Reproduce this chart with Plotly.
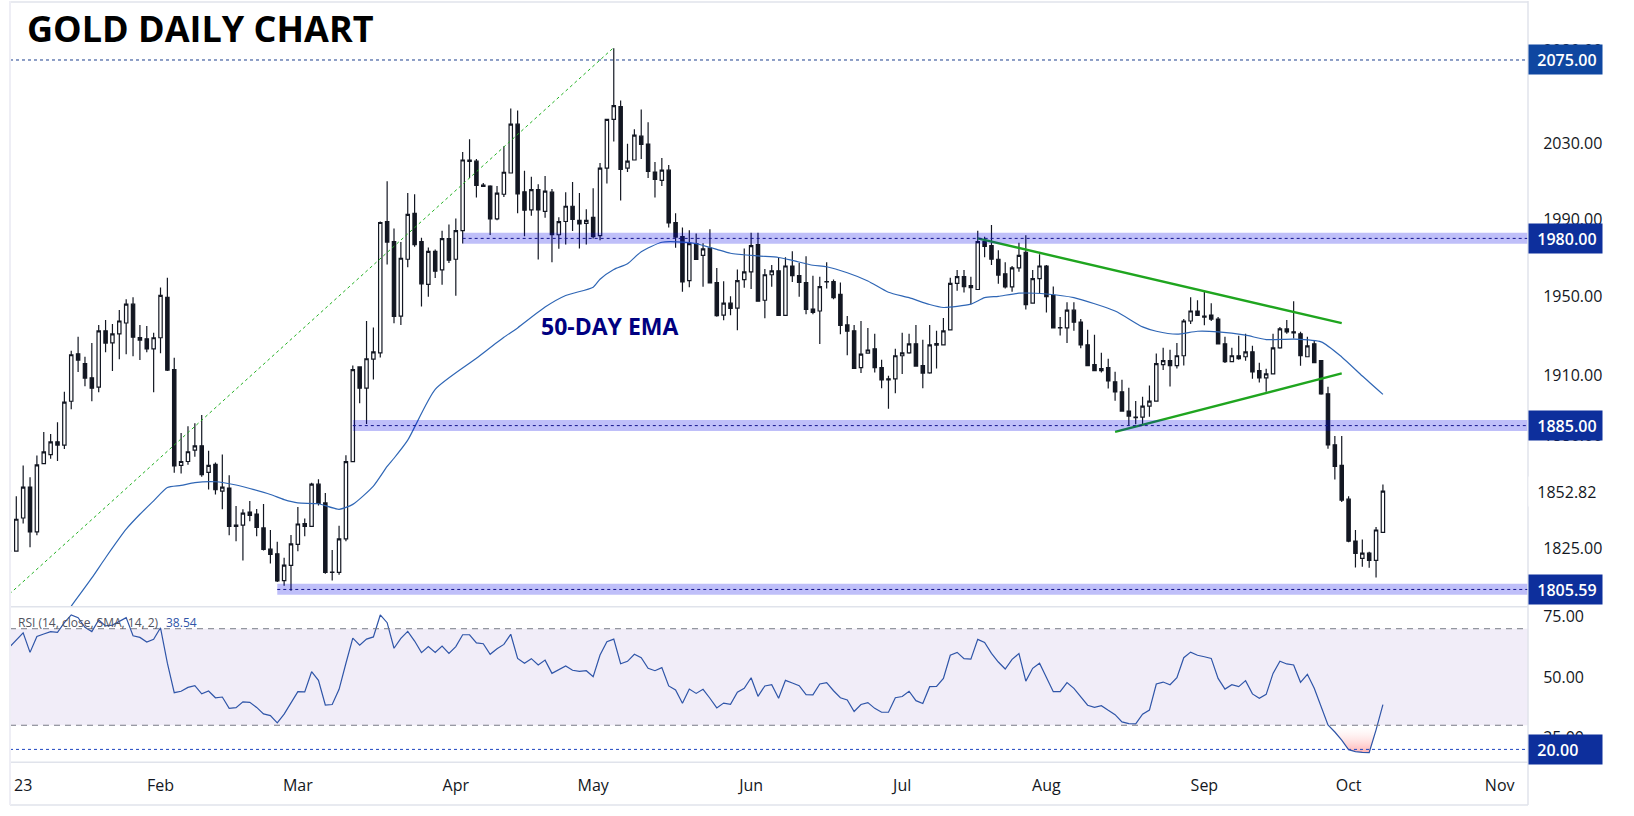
from plotly.subplots import make_subplots
import plotly.graph_objects as go
import pandas as pd
import numpy as np

W, H = 1634, 816
LEFT, RIGHT = 10, 1528
PANE_SPLIT, PANE_BOTTOM = 608, 764

dates = pd.bdate_range("2023-01-02", periods=201)

opens = [
    1823.9, 1823.9, 1839.8, 1854.8, 1833.1, 1866.3, 1870.7, 1877, 1875.4, 1897.1,
    1920.9, 1915.9, 1908.8, 1904.1, 1932.5, 1926.4, 1931, 1936.5, 1946.1, 1929.1,
    1928.5, 1923.4, 1929, 1949.6, 1912.9, 1865.4, 1867.3, 1872.9, 1875, 1862,
    1865.9, 1852.8, 1854.3, 1836.4, 1836.4, 1842.7, 1841.7, 1835, 1824.8, 1822.6,
    1809.8, 1817, 1827.1, 1837.1, 1835.8, 1856.2, 1847.1, 1813.8, 1813.7, 1829.7,
    1867.2, 1914.3, 1903.6, 1918.2, 1921.4, 1988.8, 1978.3, 1940, 1969.2, 1993.1,
    1978.3, 1956.2, 1973.3, 1963.7, 1979.9, 1969.2, 1984, 2021.2, 2020.6, 2007.9,
    2007.4, 1990.2, 2003.1, 2014.3, 2040.3, 2004.4, 1994.9, 2005.5, 1994.1, 2004.2,
    1981.9, 1988.8, 1996.8, 1989.4, 1987.8, 1991, 1981.4, 2016.9, 2042.9, 2049.8,
    2016.9, 2021.2, 2033.9, 2029.7, 2014.8, 2010.4, 2015.8, 1988.3, 1980.9, 1958.2,
    1977.3, 1971.2, 1974.9, 1957.2, 1940.5, 1946.6, 1944.1, 1958.7, 1962.7, 1976.8,
    1948.1, 1961.2, 1963.2, 1940.4, 1965.7, 1960.7, 1957.2, 1943.6, 1942.6, 1957.7,
    1957.7, 1951.1, 1935.5, 1932.5, 1913.9, 1921.2, 1923.4, 1913.9, 1908.3, 1908.3,
    1919.9, 1921.4, 1925.9, 1914.9, 1911.3, 1926.1, 1925.4, 1933, 1956.7, 1960.2,
    1955.6, 1953.6, 1978.3, 1976.3, 1969.2, 1961.7, 1955, 1964.7, 1972.8, 1946.6,
    1959.2, 1965.7, 1950.6, 1934.2, 1934, 1943, 1937, 1925.4, 1915.4, 1912.4,
    1913.9, 1906.8, 1901.8, 1892.2, 1889.2, 1889.2, 1894.7, 1897.2, 1915.4, 1917.4,
    1914.9, 1919.9, 1937.5, 1942.6, 1940, 1940.5, 1938.5, 1925.9, 1916.9, 1919.9,
    1919.4, 1921.9, 1912.4, 1908.8, 1910.8, 1923.9, 1933.5, 1932, 1931, 1919.4,
    1925.9, 1917.4, 1900.8, 1875.5, 1865.4, 1848.9, 1828.7, 1820.4, 1822.9, 1819.4,
    1832.9,
]
highs = [
    1824.4, 1850.4, 1865.4, 1859.6, 1870.2, 1881.8, 1880.8, 1886.7, 1901.8, 1922.4,
    1929.5, 1919.4, 1926.4, 1935.5, 1938, 1936, 1943.1, 1948.6, 1949.6, 1935.5,
    1935, 1931.5, 1954.6, 1959.7, 1918.9, 1881.3, 1884.7, 1886.2, 1890.2, 1872.6,
    1866.8, 1870.7, 1860.6, 1845.6, 1844, 1848, 1844.2, 1846.6, 1834, 1828.4,
    1820.7, 1831.6, 1845.1, 1839.5, 1856.9, 1858.6, 1851.9, 1824.4, 1836, 1870.4,
    1915, 1914.3, 1937.5, 1934.2, 1988.8, 2010, 1985.1, 1978.1, 2003.7, 2003.1,
    1980.3, 1975.3, 1974.3, 1984, 1987.2, 1990.4, 2025.4, 2032.3, 2021.7, 2009,
    2007.9, 2007.4, 2028.5, 2048.7, 2047.7, 2015.5, 2012.3, 2008.4, 2012.7, 2005.8,
    1991, 2004.2, 2009.5, 2003.7, 1995.2, 2006.3, 2019.6, 2042.9, 2081.4, 2053,
    2029.9, 2037.6, 2048.2, 2041.3, 2020.1, 2022.2, 2018.5, 1993.1, 1985.7, 1984.2,
    1982.5, 1977.5, 1984.8, 1964.7, 1957.8, 1950.1, 1963.9, 1974.8, 1983, 1983,
    1964.2, 1966.2, 1970.2, 1970.2, 1973.3, 1967.2, 1970.7, 1960.7, 1960.2, 1967.7,
    1958.7, 1957.2, 1940, 1935.5, 1937.5, 1934, 1931, 1917.9, 1909.8, 1923.4,
    1931.5, 1931, 1935.5, 1928, 1935.5, 1932.5, 1939, 1959.7, 1963.7, 1963.7,
    1960.2, 1984, 1980.9, 1987, 1973.8, 1967.7, 1965.7, 1977.8, 1981.7, 1963.7,
    1971.8, 1966.2, 1955.1, 1939.5, 1947.1, 1947.1, 1938.5, 1933, 1930.5, 1921.4,
    1918.4, 1911.8, 1907.8, 1903.8, 1897.2, 1899.3, 1904.9, 1921.1, 1923.9, 1922.9,
    1926.4, 1938.5, 1949.6, 1948.1, 1952.6, 1946.6, 1939.5, 1929.5, 1923.9, 1930,
    1931, 1924.9, 1916.4, 1913.4, 1931, 1934.5, 1938, 1947.6, 1932, 1929.5,
    1927.5, 1917.4, 1904.3, 1879.9, 1879.9, 1850.4, 1834, 1829.4, 1823.6, 1835.5,
    1856.1,
]
lows = [
    1823.4, 1823.9, 1837.2, 1825.7, 1831.5, 1866.3, 1868.6, 1867.6, 1873.4, 1893.1,
    1911.7, 1904.6, 1897.1, 1901.6, 1921.7, 1912.2, 1918.2, 1920.7, 1919.7, 1917.7,
    1921.7, 1901.6, 1921.2, 1912.2, 1861.8, 1861.4, 1865.7, 1869.6, 1859.9, 1853.6,
    1851.2, 1844, 1831.5, 1828.6, 1819.4, 1838.2, 1831, 1824.2, 1817.9, 1809.1,
    1807.4, 1805, 1823.8, 1831, 1835.8, 1845.9, 1813.1, 1809.8, 1812.6, 1828.6,
    1867.2, 1896.1, 1885.8, 1908, 1919, 1966.5, 1936.3, 1935.5, 1965, 1975.6,
    1944.9, 1949.9, 1959.5, 1956, 1967.2, 1950.4, 1977.3, 2011.7, 2001.4, 2007.2,
    1981.8, 1989.5, 2001.6, 2014.3, 1993.1, 1981.1, 1991.8, 1969, 1990.8, 1967.7,
    1974.6, 1976.8, 1983.9, 1974.8, 1976.8, 1979.9, 1979, 2008.8, 2031, 1999.8,
    2014.8, 2021.2, 2021.7, 2011.7, 2001.4, 2007.4, 1985.7, 1975.1, 1952.5, 1954.8,
    1969.1, 1955, 1957, 1939.7, 1937.9, 1940.4, 1932.8, 1954.5, 1953.8, 1947.6,
    1938.9, 1955, 1940.4, 1940.4, 1957.5, 1949.9, 1940.9, 1940.9, 1925.8, 1954.1,
    1948.6, 1930.8, 1920.2, 1913.2, 1911.2, 1921.2, 1911.5, 1903.6, 1893.4, 1901.1,
    1910.7, 1920.9, 1914.7, 1903.6, 1910.8, 1913.5, 1925.4, 1933, 1953, 1952.1,
    1946.1, 1953.6, 1970.2, 1966.2, 1956.5, 1954.1, 1952.5, 1962.7, 1943.4, 1946.6,
    1951.6, 1941.9, 1934, 1930.1, 1926.4, 1932.5, 1923.7, 1914.9, 1912.4, 1911.5,
    1903.5, 1897.3, 1892.2, 1885.2, 1885.7, 1885.2, 1889.4, 1897.2, 1912.7, 1904.5,
    1913.5, 1915, 1936, 1940, 1935.3, 1937.5, 1925.9, 1916.2, 1916.9, 1917.9,
    1917.4, 1908.3, 1906.4, 1901.8, 1910.8, 1923.4, 1931, 1928.6, 1914.9, 1919.4,
    1916.4, 1900.3, 1873.6, 1858.5, 1847.5, 1828.1, 1816, 1816.4, 1815.9, 1811.3,
    1832.9,
]
closes = [
    1823.9, 1839.2, 1854.8, 1833.1, 1865.7, 1872, 1877, 1875.4, 1896.7, 1920.4,
    1917.7, 1908.7, 1903.6, 1932.5, 1926.3, 1931, 1937.5, 1946.1, 1929.3, 1927.8,
    1923.3, 1929, 1950.6, 1912.7, 1865.2, 1867.3, 1872.1, 1875, 1860.9, 1865.4,
    1853.6, 1854.8, 1835.8, 1835.8, 1842.2, 1841.1, 1835.3, 1824.7, 1822.3, 1809.6,
    1817.2, 1827.3, 1836.9, 1835.8, 1856.2, 1846.9, 1813.7, 1813.7, 1829.7, 1867.2,
    1912.9, 1903.6, 1918.4, 1921.9, 1988.3, 1978.1, 1939.9, 1969.7, 1992.5, 1976.8,
    1956.5, 1973.3, 1963, 1979.9, 1968.7, 1984, 2021.2, 2020.5, 2007.7, 2007.2,
    1990.2, 2003.7, 2014.7, 2040.3, 2003.3, 1994.7, 2005.5, 1994.9, 2004.7, 1981.9,
    1988.7, 1996.8, 1989.9, 1987.6, 1989.4, 1980.9, 2016.9, 2042.9, 2050.3, 2016.2,
    2020.6, 2034.4, 2029.5, 2015.2, 2010.9, 2015.8, 1988.1, 1980.7, 1957.5, 1977.3,
    1969.1, 1974.6, 1957, 1940.2, 1946.6, 1943.9, 1958.2, 1962.7, 1976.3, 1947.6,
    1961.2, 1963.2, 1940.4, 1965.7, 1960.7, 1957.2, 1943.4, 1941.9, 1955.1, 1957.5,
    1949.4, 1935.3, 1932.3, 1913.5, 1920.7, 1922.8, 1913.9, 1907.7, 1907.7, 1919.9,
    1921.4, 1925.9, 1914.7, 1911.2, 1925.4, 1925.3, 1932.5, 1956.7, 1960.2, 1955.1,
    1954.6, 1978.3, 1975.8, 1969.2, 1961, 1955, 1964.7, 1971.2, 1945.9, 1959.2,
    1965.7, 1949.9, 1934, 1934, 1943, 1936.9, 1925.4, 1914.9, 1912.4, 1913.4,
    1907.3, 1901.8, 1892.2, 1889.7, 1889, 1894.7, 1897.2, 1915.9, 1917.4, 1914.9,
    1919.9, 1937.5, 1942.6, 1940.4, 1939.5, 1938.5, 1925.9, 1916.9, 1919.9, 1918.4,
    1921.9, 1911.8, 1908.8, 1910.8, 1923.9, 1933.5, 1932, 1931.5, 1919.9, 1924.9,
    1916.4, 1900.8, 1875.5, 1864.9, 1848.5, 1828.6, 1822.8, 1822.9, 1819.4, 1834,
    1852.82,
]

ema_bars = [
    9, 12, 14, 17, 19, 21, 23, 25, 27, 30, 33, 35, 38, 40, 42, 45, 48, 50, 53, 55,
    56, 58, 62, 68, 72, 74, 78, 81, 85, 86, 88, 90, 92, 95, 98, 100, 103, 105, 109, 112,
    114, 117, 119, 122, 125, 128, 131, 134, 136, 140, 142, 144, 147, 151, 155, 161, 165, 167, 170, 173,
    176, 180, 183, 187, 191, 194, 197, 200,
]
ema_values = [
    1797.7, 1811.05, 1820.7, 1834.4, 1841.6, 1848.1, 1854.6, 1855.6, 1857, 1857.4,
    1855.8, 1854.1, 1851.2, 1848.7, 1847.1, 1846.7, 1844, 1846.4, 1855.3, 1864.9,
    1868.9, 1877.8, 1903, 1918.6, 1929.2, 1934, 1944.6, 1950.5, 1954.8, 1958.9,
    1963.9, 1966.9, 1973.1, 1978, 1978.1, 1977.3, 1974.3, 1972.3, 1970.9, 1970.1,
    1968.6, 1966.1, 1965.3, 1962.2, 1958, 1952.2, 1949.4, 1945.9, 1944.4, 1946.1,
    1949.4, 1950.1, 1951.7, 1951.3, 1949.4, 1942.6, 1934.5, 1932.3, 1930.8, 1932.3,
    1932, 1930.3, 1928.1, 1928.3, 1926.9, 1919.3, 1909.7, 1900.5,
]

rsi = [
    62.3, 65.3, 68.3, 60.2, 66.8, 67.8, 68.8, 68.5, 72.5, 75.7,
    74.6, 70.6, 68.8, 73.6, 71.2, 71.5, 73.2, 74.6, 67.1, 66.4,
    64.5, 65.6, 70.4, 55.7, 43.5, 44.1, 45.7, 46.4, 43, 44.2,
    41.4, 41.7, 37, 37.3, 39.7, 39.5, 37.4, 34.7, 34, 31,
    34.6, 39.4, 43.9, 43.8, 52.2, 48.6, 38.4, 38.6, 44.9, 55.7,
    66.1, 63.2, 65.7, 66.6, 75.7, 72.5, 61.9, 66, 68.9, 64.9,
    60.1, 62.6, 60.2, 62.8, 59.8, 62.6, 67.5, 67.5, 64.1, 63.8,
    59.4, 61.7, 63.5, 67.7, 57.7, 55.7, 57.6, 55, 57, 51.5,
    52.9, 54.6, 52.8, 52.3, 52.6, 50.1, 59.1, 64.6, 65.7, 55.5,
    56.5, 59.4, 58, 53.6, 52.6, 53.9, 46.3, 44.6, 39.1, 45,
    43.2, 44.9, 41.2, 37.2, 39.2, 38.7, 43.7, 45.3, 49.7, 42,
    46.3, 46.8, 41.2, 48.6, 47.5, 46.4, 42.7, 42.6, 47.1, 47.7,
    44.3, 41.4, 40.5, 35.7, 38.6, 39.4, 37, 35.4, 35.4, 41.4,
    41.9, 44.1, 40.2, 39, 46, 46.1, 49.4, 59, 60.2, 57.6,
    57.4, 65.6, 64.3, 59.8, 56.2, 53.3, 57.3, 59.7, 48.3, 53.6,
    55.7, 49.6, 43.9, 43.9, 47.7, 45.3, 41.9, 38.3, 37.4, 38.1,
    36.2, 34.4, 31.4, 30.7, 30.6, 34.6, 36.3, 47.1, 47.9, 46.8,
    49.7, 58, 60.3, 59, 58.4, 57.7, 49.4, 45, 46.8, 46,
    48.5, 43, 41.2, 42.8, 51.5, 56.5, 55.4, 55, 47.8, 51.1,
    45.3, 38, 30.1, 27.2, 23.8, 19.9, 19.1, 18.8, 18.7, 28.1,
    38.54,
]

# support / resistance levels: (price, first date of the band)
band_levels = [1980, 1885, 1805.59]
band_starts = ["2023-04-04", "2023-03-13", "2023-02-24"]

peak_line_x = ["2023-01-02", "2023-05-04"]
peak_line_y = [1803.4, 2081.8]
upper_line_x = ["2023-07-18", "2023-09-29"]
upper_line_y = [1980, 1936.4]
lower_line_x = ["2023-08-15", "2023-09-29"]
lower_line_y = [1881.9, 1911]

price_ticks = [2080, 2030, 1990, 1950, 1910, 1880, 1825, 1801.5]
price_labels = ["2080.00", "2030.00", "1990.00", "1950.00", "1910.00", "1880.00", "1825.00", "1800.00"]
rsi_ticks = [75, 50, 25]
month_ticks = ["2023-01-04", "2023-02-01", "2023-03-01", "2023-04-03", "2023-05-01", "2023-06-01",
               "2023-07-03", "2023-08-01", "2023-09-01", "2023-10-02", "2023-11-01"]
month_labels = ["23", "Feb", "Mar", "Apr", "May", "Jun", "Jul", "Aug", "Sep", "Oct", "Nov"]

FONT = "Open Sans"
INK = "#131722"
GREEN = "#1fa51f"
BOX = "#0d2f9c"

fig = make_subplots(rows=2, cols=1, shared_xaxes=True)

fig.add_trace(go.Candlestick(
    x=dates, open=opens, high=highs, low=lows, close=closes,
    increasing=dict(fillcolor="white", line=dict(color=INK, width=1.2)),
    decreasing=dict(fillcolor=INK, line=dict(color=INK, width=1.2)),
    whiskerwidth=0), row=1, col=1)

fig.add_trace(go.Scatter(x=dates[ema_bars], y=ema_values, mode="lines",
                         line=dict(color="#2f66b5", width=1.2, shape="spline", smoothing=0.6)), row=1, col=1)
fig.add_trace(go.Scatter(x=peak_line_x, y=peak_line_y, mode="lines",
                         line=dict(color="#22b022", width=1, dash="dot")), row=1, col=1)
fig.add_trace(go.Scatter(x=upper_line_x, y=upper_line_y, mode="lines",
                         line=dict(color=GREEN, width=2.4)), row=1, col=1)
fig.add_trace(go.Scatter(x=lower_line_x, y=lower_line_y, mode="lines",
                         line=dict(color=GREEN, width=2.4)), row=1, col=1)

# oversold shading between the RSI and the 30 line
fig.add_trace(go.Scatter(x=list(dates[192:200]) + [pd.Timestamp("2023-10-06 05:00")],
                         y=rsi[192:200] + [30], mode="none", fill="toself",
                         fillgradient=dict(type="vertical", start=18.7, stop=30,
                                           colorscale=[[0, "rgba(255,175,175,1)"], [1, "rgba(255,255,255,0.2)"]])),
              row=2, col=1)
fig.add_trace(go.Scatter(x=dates, y=rsi, mode="lines",
                         line=dict(color="#2f55a8", width=1.2)), row=2, col=1)

for price, start in zip(band_levels, band_starts):
    fig.add_shape(type="rect", xref="x", yref="y", x0=start, x1="2023-11-07 03:00",
                  y0=price * 0.9986, y1=price * 1.0015,
                  fillcolor="rgba(0,0,230,0.25)", line_width=0)
    fig.add_shape(type="line", xref="x", yref="y", x0=start, x1="2023-11-07 03:00", y0=price, y1=price,
                  line=dict(color="#14148c", width=1, dash="dot"))
fig.add_shape(type="line", xref="paper", yref="y", x0=LEFT / W, x1=RIGHT / W, y0=2075, y1=2075,
              line=dict(color="#1c3f8f", width=1, dash="dot"))

# RSI pane furniture
fig.add_shape(type="rect", xref="paper", yref="y2", x0=LEFT / W, x1=RIGHT / W, y0=30, y1=70,
              fillcolor="rgba(126,87,194,0.11)", line_width=0, layer="below")
for level in [30, 70]:
    fig.add_shape(type="line", xref="paper", yref="y2", x0=LEFT / W, x1=RIGHT / W, y0=level, y1=level,
                  line=dict(color="#787b86", width=1, dash="6px,5px"))
fig.add_shape(type="line", xref="paper", yref="y2", x0=LEFT / W, x1=RIGHT / W, y0=20, y1=20,
              line=dict(color="#1c45c0", width=1, dash="dot"))

# pane borders
BORDER = "#e0e3eb"
for py in [1, PANE_SPLIT, PANE_BOTTOM, 807]:
    fig.add_shape(type="line", xref="paper", yref="paper", x0=LEFT / W, x1=RIGHT / W,
                  y0=1 - py / H, y1=1 - py / H, line=dict(color=BORDER, width=1.5))
fig.add_shape(type="line", xref="paper", yref="paper", x0=RIGHT / W, x1=RIGHT / W, y0=1 - 807 / H, y1=1,
              line=dict(color=BORDER, width=1.5))
fig.add_shape(type="line", xref="paper", yref="paper", x0=LEFT / W, x1=LEFT / W, y0=1 - 807 / H, y1=1,
              line=dict(color="#eeeef5", width=2))


def price_box(text, y, yref, bg=BOX, color="white", weight=600):
    fig.add_annotation(x=RIGHT / W, xref="paper", xanchor="left", y=y, yref=yref, yanchor="middle",
                       text="\u00a0\u00a0" + text, showarrow=False, width=73, height=29, align="left",
                       bgcolor=bg, borderpad=0, font=dict(family=FONT, size=16, color=color, weight=weight))


price_box("2075.00", np.log10(2075), "y", bg="#0f47a1")
price_box("1980.00", np.log10(1980), "y")
price_box("1885.00", np.log10(1885), "y")
price_box("1852.82", np.log10(1852.82), "y", bg="white", color=INK, weight="normal")
price_box("1805.59", np.log10(1805.59), "y")
price_box("20.00", 20, "y2")

fig.add_annotation(x=25 / W, xref="paper", xanchor="left", y=1 - 28 / H, yref="paper", yanchor="middle",
                   text="GOLD DAILY CHART", showarrow=False,
                   font=dict(family=FONT, size=36, color="black", weight="bold"))
fig.add_annotation(x=539 / W, xref="paper", xanchor="left", y=1 - 326 / H, yref="paper", yanchor="middle",
                   text="50-DAY EMA", showarrow=False,
                   font=dict(family=FONT, size=23, color="#000080", weight="bold"))
fig.add_annotation(x=16 / W, xref="paper", xanchor="left", y=1 - 624 / H, yref="paper", yanchor="middle",
                   text="RSI (14, close, SMA, 14, 2)", showarrow=False,
                   font=dict(family=FONT, size=12, color="#50535e"))
fig.add_annotation(x=164 / W, xref="paper", xanchor="left", y=1 - 624 / H, yref="paper", yanchor="middle",
                   text="38.54", showarrow=False, font=dict(family=FONT, size=12, color="#2f55a8"))

fig.update_xaxes(range=["2023-01-02 02:00", "2023-11-07 03:00"], domain=[LEFT / W, RIGHT / W],
                 rangebreaks=[dict(bounds=["sat", "mon"])], rangeslider_visible=False,
                 showgrid=False, zeroline=False, showline=False)
fig.update_xaxes(showticklabels=False, ticks="", row=1, col=1)
fig.update_xaxes(tickmode="array", tickvals=month_ticks, ticktext=month_labels, ticks="outside",
                 ticklen=9, tickcolor="white", tickfont=dict(family=FONT, size=16, color=INK),
                 row=2, col=1)

fig.update_yaxes(type="log", range=[np.log10(1797.4), np.log10(2107.4)], domain=[1 - PANE_SPLIT / H, 1],
                 side="right", showgrid=False, zeroline=False, showline=False,
                 tickmode="array", tickvals=price_ticks, ticktext=price_labels,
                 ticks="outside", ticklen=11, tickcolor="rgba(0,0,0,0)",
                 tickfont=dict(family=FONT, size=16, color=INK), row=1, col=1)
fig.update_yaxes(range=[14.7, 79.1], domain=[1 - PANE_BOTTOM / H, 1 - PANE_SPLIT / H],
                 side="right", showgrid=False, zeroline=False, showline=False,
                 tickmode="array", tickvals=rsi_ticks, ticktext=[f"{t:.2f}" for t in rsi_ticks],
                 ticks="outside", ticklen=11, tickcolor="rgba(0,0,0,0)",
                 tickfont=dict(family=FONT, size=16, color=INK), row=2, col=1)

fig.update_layout(width=W, height=H, margin=dict(l=0, r=0, t=0, b=0), showlegend=False,
                  plot_bgcolor="white", paper_bgcolor="white")

fig.write_html("out.html", post_script="document.body.style.margin='0';", config=dict(displayModeBar=False))
